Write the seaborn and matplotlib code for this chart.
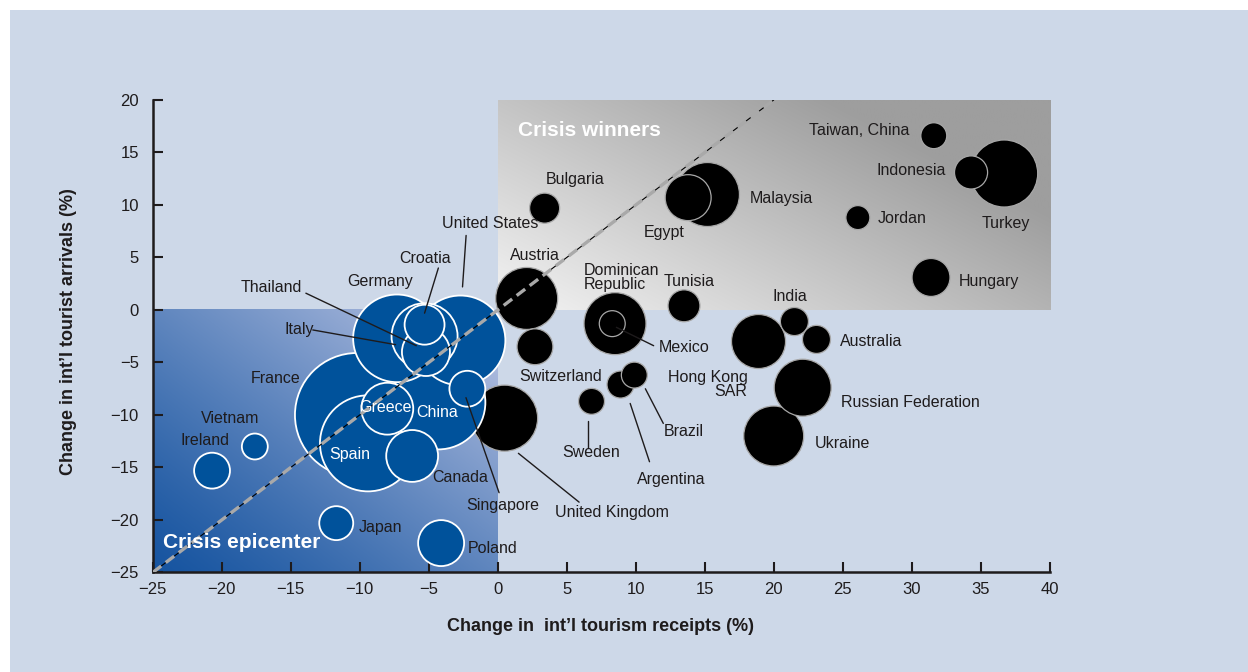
import numpy as np
import pandas as pd
import matplotlib
matplotlib.use("Agg")
import matplotlib.pyplot as plt
from matplotlib.patches import Rectangle
import seaborn as sns

# ---------------- data ----------------
countries = ["France", "Spain", "China", "United States", "Germany", "Italy",
             "Thailand", "Croatia", "Greece", "Canada", "Singapore", "Ireland",
             "Vietnam", "Japan", "Poland",
             "Bulgaria", "Malaysia", "Egypt", "Austria", "Switzerland",
             "Dominican Republic", "Mexico", "Sweden", "Argentina", "Brazil",
             "United Kingdom", "Tunisia", "Taiwan, China", "Turkey", "Indonesia",
             "Jordan", "Hungary", "Hong Kong SAR", "India", "Australia",
             "Russian Federation", "Ukraine"]
receipts = [-10.2, -9.4, -4.3, -2.7, -7.3, -5.3,
            -5.2, -5.3, -8.0, -6.2, -2.2, -20.7,
            -17.6, -11.7, -4.1,
            3.4, 15.2, 13.8, 2.1, 2.7,
            8.5, 8.3, 6.8, 8.9, 9.9,
            0.5, 13.5, 31.6, 36.7, 34.3,
            26.1, 31.4, 18.9, 21.5, 23.1,
            22.1, 20.0]
arrivals = [-10.0, -12.7, -8.8, -2.9, -2.7, -2.5,
            -4.0, -1.4, -9.4, -13.9, -7.5, -15.3,
            -13.0, -20.3, -22.2,
            9.7, 11.0, 10.7, 1.1, -3.5,
            -1.3, -1.3, -8.7, -7.1, -6.2,
            -10.3, 0.4, 16.6, 13.0, 13.1,
            8.8, 3.1, -3.0, -1.1, -2.8,
            -7.4, -12.0]
bubble = [80, 48, 46, 42, 40, 22.7,
          12, 8.3, 14, 14, 6.7, 6.7,
          3.5, 6.0, 11,
          4.7, 21.3, 11, 20, 6.7,
          20, 3.5, 3.5, 3.8, 3.5,
          22.7, 5.3, 3.5, 23.4, 5.7,
          3.0, 7.5, 15.2, 4.1, 4.1,
          16.9, 18.7]
group = ["epicenter"] * 15 + ["other"] * 22

x_ticks = list(range(-25, 41, 5))
y_ticks = list(range(-25, 21, 5))

# ---------------- layout / style ----------------
label_place = {
    "Taiwan, China": (29.8, 17.1, "right", "k"),
    "Indonesia": (32.5, 13.3, "right", "k"),
    "Turkey": (36.8, 8.2, "center", "k"),
    "Malaysia": (18.3, 10.6, "left", "k"),
    "Jordan": (27.5, 8.7, "left", "k"),
    "Hungary": (33.4, 2.7, "left", "k"),
    "Bulgaria": (5.6, 12.4, "center", "k"),
    "Egypt": (12.1, 7.4, "center", "k"),
    "United States": (-0.56, 8.2, "center", "k"),
    "Austria": (2.7, 5.2, "center", "k"),
    "Dominican Republic": (6.25, 3.1, "left", "k"),
    "Tunisia": (13.9, 2.7, "center", "k"),
    "India": (21.2, 1.3, "center", "k"),
    "Australia": (24.8, -3.0, "left", "k"),
    "Mexico": (11.7, -3.6, "left", "k"),
    "Hong Kong SAR": (18.1, -7.1, "right", "k"),
    "Russian Federation": (24.9, -8.8, "left", "k"),
    "Ukraine": (23.0, -12.7, "left", "k"),
    "Switzerland": (4.55, -6.3, "center", "k"),
    "Sweden": (6.8, -13.6, "center", "k"),
    "Brazil": (13.5, -11.6, "center", "k"),
    "Argentina": (12.6, -16.1, "center", "k"),
    "United Kingdom": (8.25, -19.3, "center", "k"),
    "Singapore": (0.35, -18.6, "center", "k"),
    "Canada": (-2.7, -16.0, "center", "k"),
    "Poland": (-2.2, -22.7, "left", "k"),
    "Japan": (-10.1, -20.7, "left", "k"),
    "Ireland": (-21.2, -12.4, "center", "k"),
    "Vietnam": (-19.4, -10.3, "center", "k"),
    "France": (-16.1, -6.5, "center", "k"),
    "Italy": (-14.4, -1.9, "center", "k"),
    "Thailand": (-16.4, 2.1, "center", "k"),
    "Germany": (-8.5, 2.7, "center", "k"),
    "Croatia": (-5.3, 4.9, "center", "k"),
    "Greece": (-8.1, -9.3, "center", "w"),
    "China": (-4.4, -9.8, "center", "w"),
    "Spain": (-10.7, -13.8, "center", "w"),
}
display_text = {"Dominican Republic": "Dominican\nRepublic",
                "Hong Kong SAR": "Hong Kong\nSAR"}
line_align = {"Hong Kong SAR": "right", "Dominican Republic": "left"}
leaders = {
    "United States": ((-2.29, 7.1), (-2.55, 2.2)),
    "Croatia": ((-4.3, 4.0), (-5.3, -0.3)),
    "Thailand": ((-13.9, 1.6), (-5.9, -3.4)),
    "Italy": ((-13.4, -1.9), (-7.4, -3.3)),
    "Singapore": ((-2.3, -8.35), (0.1, -17.4)),
    "United Kingdom": ((1.5, -13.65), (5.9, -18.3)),
    "Sweden": ((6.57, -10.6), (6.57, -13.1)),
    "Argentina": ((9.6, -8.9), (11.0, -14.45)),
    "Brazil": ((10.7, -7.5), (12.0, -10.8)),
    "Mexico": ((8.6, -1.65), (11.3, -3.4)),
}

BG = "#cdd8e8"
BLUE = "#00529b"
INK = "#1e1b1c"
W, H, DPI = 12.48, 6.72, 100

sns.set_style("ticks")
plt.rcParams["font.family"] = ["Liberation Sans", "DejaVu Sans"]

df = pd.DataFrame({"country": countries, "receipts": receipts,
                   "arrivals": arrivals, "bubble": bubble, "group": group})
df = df.sort_values("bubble", ascending=False)

fig = plt.figure(figsize=(W, H), dpi=DPI)
fig.patch.set_facecolor("white")
fig.add_artist(Rectangle((10 / 1248, 0), 1 - 10 / 1248, 1 - 10 / 672,
                         transform=fig.transFigure, facecolor=BG,
                         edgecolor="none", zorder=-10))
ax = fig.add_axes([0.12236, 0.14807, 0.71875, 0.70312])
ax.set_facecolor("none")

# gradient quadrants
nx, ny = 400, 200
X, Y = np.meshgrid(np.linspace(0, 1, nx), np.linspace(0, 1, ny))
t = np.clip(0.75 * X + 0.55 * Y, 0, 1)
g = (244 - 86 * t) / 255
ax.imshow(np.dstack([g, g, g]), extent=[0, 40, 0, 20], origin="lower",
          aspect="auto", zorder=0, interpolation="bilinear")
t2 = (np.clip((X + Y) / 2, 0, 1) ** 1.2)[..., None]
c0 = np.array([22, 84, 160]) / 255
c1 = np.array([192, 200, 230]) / 255
ax.imshow(c0 + t2 * (c1 - c0), extent=[-25, 0, -25, 0], origin="lower",
          aspect="auto", zorder=0, interpolation="bilinear")

vmax = max(bubble)
smax = 99.6 * vmax
sns.scatterplot(data=df[df.group == "other"], x="receipts", y="arrivals",
                size="bubble", sizes=(0, smax), size_norm=(0, vmax),
                color="black", edgecolor="#a8a8a8", linewidth=0.9,
                legend=False, ax=ax, zorder=3)
sns.scatterplot(data=df[df.group == "epicenter"], x="receipts", y="arrivals",
                size="bubble", sizes=(0, smax), size_norm=(0, vmax),
                color=BLUE, edgecolor="white", linewidth=1.3,
                legend=False, ax=ax, zorder=4)

# line of equality
diag = np.array([-25, 20])
ax.plot(diag, diag, color="black", lw=0.8, zorder=5)
ax.plot(diag, diag, color="#a9a9a9", lw=2.4, dashes=(3.2, 1.7), zorder=6)

# leader lines & labels
for name, ((x0, y0), (x1, y1)) in leaders.items():
    ax.plot([x0, x1], [y0, y1], color=INK, lw=1.0, zorder=7)
for name, (lx, ly, ha, col) in label_place.items():
    ax.text(lx, ly, display_text.get(name, name), ha=ha, va="center",
            multialignment=line_align.get(name, "center"),
            fontsize=11.5, color=INK if col == "k" else "white",
            linespacing=0.95, zorder=8)

ax.text(1.5, 17.1, "Crisis winners", color="white", fontsize=15,
        fontweight="bold", ha="left", va="center", zorder=8)
ax.text(-24.25, -22.1, "Crisis epicenter", color="white", fontsize=15,
        fontweight="bold", ha="left", va="center", zorder=8)

ax.set_xlim(-25, 40)
ax.set_ylim(-25, 20)
ax.set_xticks(x_ticks)
ax.set_yticks(y_ticks)
ax.set_xlabel("")
ax.set_ylabel("")
ax.tick_params(direction="in", length=7.5, width=1.5, color=INK,
               labelsize=12, labelcolor=INK)
ax.tick_params(axis="y", pad=10)
ax.tick_params(axis="x", pad=6.5)
for s in ["top", "right"]:
    ax.spines[s].set_visible(False)
for s in ["left", "bottom"]:
    ax.spines[s].set_linewidth(1.8)
    ax.spines[s].set_color(INK)

ax.text(0.4987, -0.115, "Change in  int\u2019l tourism receipts (%)",
        transform=ax.transAxes, ha="center", va="center", fontsize=13,
        fontweight="bold", color=INK)
ax.text(-0.0944, 0.509, "Change in int\u2019l tourist arrivals (%)",
        transform=ax.transAxes, ha="center", va="center", fontsize=13,
        fontweight="bold", color=INK, rotation=90)

fig.savefig("out.png", dpi=DPI, facecolor=fig.get_facecolor())
